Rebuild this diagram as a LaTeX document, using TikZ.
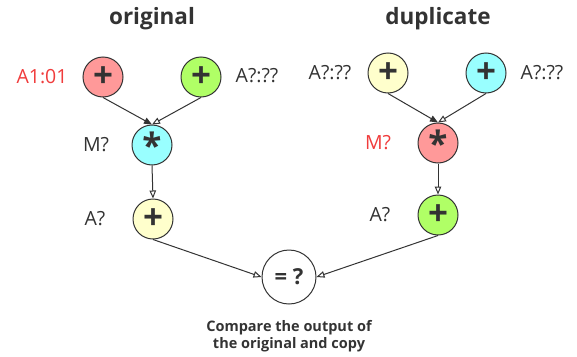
\documentclass[tikz,border=0pt]{standalone}
\usepackage{fontspec}
\setmainfont{Open Sans}
\usetikzlibrary{arrows.meta}
\definecolor{ink}{HTML}{333333}
\definecolor{redfill}{HTML}{FF9999}
\definecolor{greenfill}{HTML}{B0FF66}
\definecolor{cyanfill}{HTML}{99FFFF}
\definecolor{yellowfill}{HTML}{FFFFCC}
\definecolor{redtext}{HTML}{F03C3C}
\tikzset{
  opnode/.style={circle, draw=ink, line width=1pt, minimum size=40pt, inner sep=0pt, text=ink, font=\fontsize{35}{35}\selectfont\bfseries},
  eqnode/.style={circle, draw=ink, line width=1pt, minimum size=54pt, inner sep=0pt, text=ink, font=\fontsize{22}{22}\selectfont\bfseries},
  lbl/.style={text=ink, font=\fontsize{19.5}{19.5}\selectfont, inner sep=0pt},
  redlbl/.style={lbl, text=redtext},
  title/.style={text=ink, font=\fontsize{22.5}{22.5}\selectfont\bfseries, inner sep=0pt},
  caption/.style={text=ink, font=\fontsize{14.5}{17}\selectfont\bfseries, align=center, inner sep=0pt},
  conn/.style={draw=ink, line width=1pt},
  openarr/.style={conn, -{Triangle[open, length=8pt, width=6.5pt]}},
  fullarr/.style={conn, -{Triangle[length=8pt, width=6.5pt]}},
}
\begin{document}
\begin{tikzpicture}[x=1pt, y=-1pt]
\useasboundingbox (0,0) rectangle (577,356);
% titles
\node[title] (t1) at (152,19) {original};
\node[title] (t2) at (438,19) {duplicate};
% original
\node[opnode, fill=redfill] (oa) at (103,77) {+};
\node[opnode, fill=greenfill] (ob) at (201,77) {+};
\node[opnode, fill=cyanfill] (om) at (152,145) {*};
\node[opnode, fill=yellowfill] (oc) at (153,219) {+};
% duplicate
\node[opnode, fill=yellowfill] (da) at (388,73) {+};
\node[opnode, fill=cyanfill] (db) at (486,73) {+};
\node[opnode, fill=redfill] (dm) at (438,143) {*};
\node[opnode, fill=greenfill] (dc) at (438,215) {+};
% compare
\node[eqnode] (eq) at (289,277) {= ?};
\node[caption] (cap) at (289,336) {Compare the output of\\the original and copy};
% labels
\node[redlbl] (loa) at (42,77) {A1:01};
\node[lbl] (lob) at (257,76) {A?:??};
\node[lbl] (lom) at (96,145) {M?};
\node[lbl] (loc) at (95,219) {A?};
\node[lbl] (lda) at (330,73) {A?:??};
\node[lbl] (ldb) at (542,73) {A?:??};
\node[redlbl] (ldm) at (378,143) {M?};
\node[lbl] (ldc) at (380,215) {A?};
% connectors
\draw[fullarr] (oa.south) -- (om.north);
\draw[openarr] (ob.south) -- (om.north);
\draw[openarr] (om.south) -- (oc.north);
\draw[openarr] (oc.south) -- (eq.west);
\draw[fullarr] (da.south) -- (dm.north);
\draw[openarr] (db.south) -- (dm.north);
\draw[openarr] (dm.south) -- (dc.north);
\draw[openarr] (dc.south) -- (eq.east);
\end{tikzpicture}
\end{document}
